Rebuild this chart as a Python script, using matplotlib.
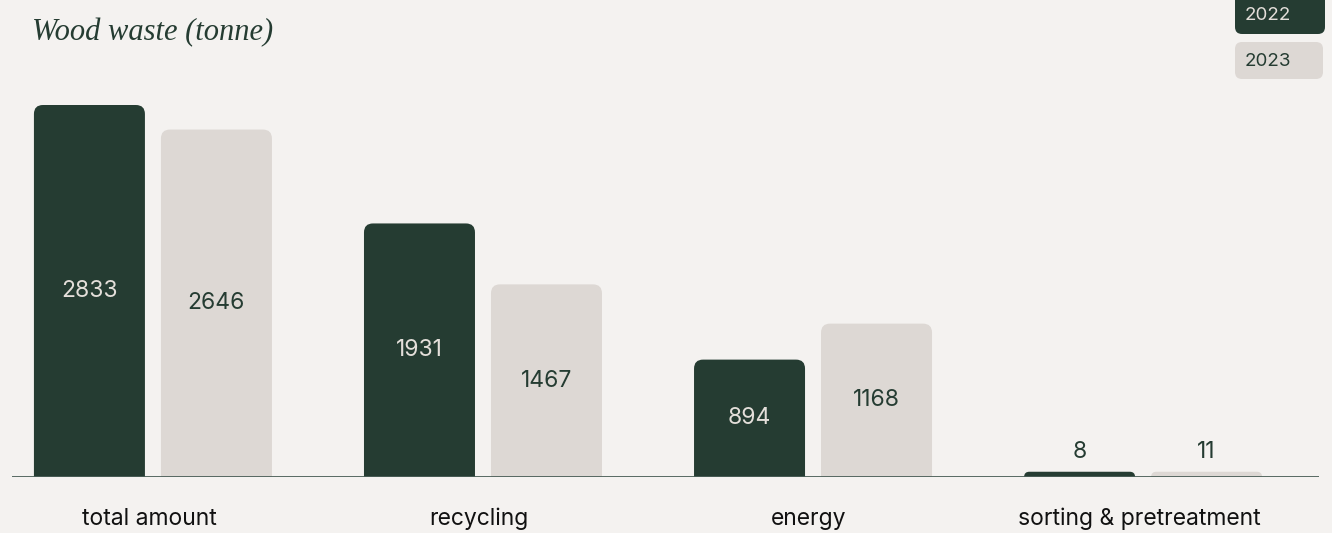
import matplotlib.pyplot as plt
from matplotlib.patches import FancyBboxPatch

categories = ['total amount', 'recycling', 'energy', 'sorting & pretreatment']
years = ['2022', '2023']
v2022 = [2833, 1931, 894, 8]
v2023 = [2646, 1467, 1168, 11]

bg = '#f4f2f0'
dark = '#253c32'
light = '#ddd8d4'

W, H = 1332, 533
fig = plt.figure(figsize=(W / 100, H / 100), dpi=100, facecolor=bg)
# axes placed in pixel terms
left, right, bottom, top = 12, 1319, 477, 80
ax = fig.add_axes([left / W, (H - bottom) / H, (right - left) / W, (bottom - top) / H])
ax.set_facecolor(bg)
ymax = 2833 * (bottom - top) / 372
ax.set_xlim(-0.427, 3.533)
ax.set_ylim(0, ymax)

xpx = (right - left) / (3.533 + 0.427)   # pixels per x unit
ypx = (bottom - top) / ymax               # pixels per y unit
width = 111 / xpx
off = 63.5 / xpx
r = 9 / xpx

plt.rcParams['font.family'] = ['Inter', 'DejaVu Sans']

def draw(xc, v, color, txtcol):
    h = max(v, 40)
    p = FancyBboxPatch((xc - width / 2, -r * xpx / ypx), width, h + r * xpx / ypx,
                       boxstyle='round,pad=0,rounding_size=%f' % min(r, h * ypx / xpx),
                       mutation_aspect=xpx / ypx, fc=color, ec='none', clip_on=True)
    ax.add_patch(p)
    if v > 200:
        ax.text(xc, v / 2, str(v), ha='center', va='center', fontsize=16.5, color=txtcol)
    else:
        ax.text(xc, h + 20 / ypx, str(v), ha='center', va='center', fontsize=16.5, color=dark)

for i, c in enumerate(categories):
    draw(i - off, v2022[i], dark, '#e4dfda')
    draw(i + off, v2023[i], light, dark)
    ax.text(i - 4 / xpx, -42 / ypx, c, ha='center', va='center', fontsize=16.5,
            color='#111111', clip_on=False)

ax.axhline(0, color='#4b5f58', lw=1.3, zorder=5)
for s in ax.spines.values():
    s.set_visible(False)
ax.set_xticks([])
ax.set_yticks([])

fig.text(32 / W, 1 - 33 / H, 'Wood waste (tonne)', fontsize=22, style='italic',
         family='Liberation Serif', color=dark, va='center', ha='left')

# legend chips (figure pixel coords)
for yr, (x0, y0, x1, y1), ty, fc, tc in [(years[0], (1235, -12, 1325, 34), 16, dark, '#e4dfda'),
                                         (years[1], (1235, 42, 1323, 79), 61, light, dark)]:
    fig.patches.append(FancyBboxPatch((x0, H - y1), x1 - x0, y1 - y0,
                                      boxstyle='round,pad=0,rounding_size=7',
                                      fc=fc, ec='none', transform=None, figure=fig))
    fig.text(1245 / W, 1 - ty / H, yr, fontsize=13.5, color=tc, va='center', ha='left')

fig.savefig('out.png', dpi=100, facecolor=bg)
